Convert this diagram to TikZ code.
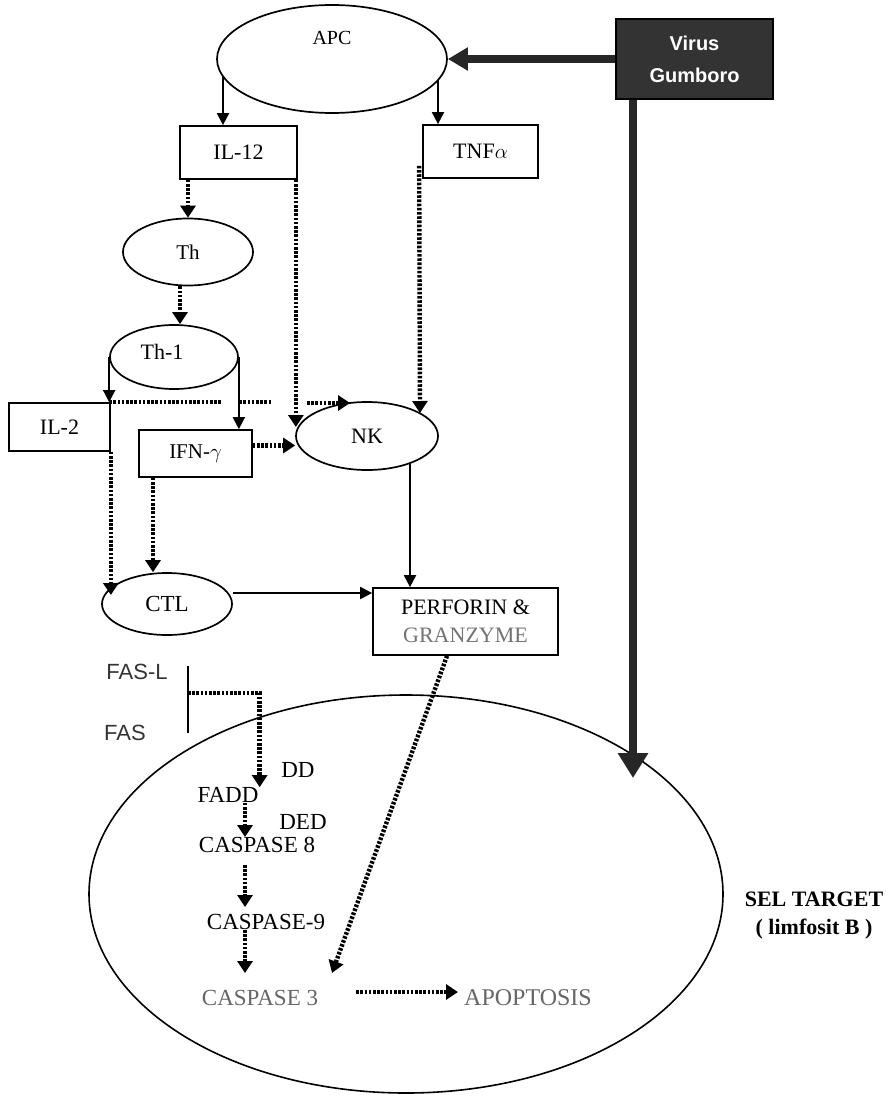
\documentclass[tikz,border=0pt]{standalone}
\usepackage{fontspec}
\setmainfont{Liberation Serif}
\newfontfamily\fasfont{Liberation Sans}
\newfontfamily\virfont{Liberation Sans}
\usetikzlibrary{arrows.meta,shapes.geometric,calc}
\newcommand{\myfs}[1]{\fontsize{#1}{#1}\selectfont}
\begin{document}
\begin{tikzpicture}[x=1pt,y=-1pt,
  box/.style={draw,line width=1.7pt,rectangle,inner sep=0pt},
  oval/.style={draw,line width=1.7pt,ellipse,inner sep=0pt},
  lbl/.style={inner sep=0pt},
  solidarr/.style={line width=1.8pt,-{Triangle[length=12pt,width=12pt]}},
  dotline/.style={line width=4.4pt,dash pattern=on 2.6pt off 1.6pt},
  dotarr/.style={dotline,-{Triangle[length=12pt,width=15pt]}},
  heavy/.style={line width=8pt,draw=black!85}]
\fill[white] (0,0) rectangle (892,1097);
\useasboundingbox (0,0) rectangle (892,1097);

% nodes
\node[oval,minimum width=230pt,minimum height=108pt,
  label={[lbl,yshift=21pt,font=\myfs{20}]center:APC}] (apc) at (332,59) {};
\node[box,fill=black!80,minimum width=157pt,minimum height=80pt,text=white,
  align=center,font=\virfont\bfseries\fontsize{20}{32}\selectfont] (virus) at (694.5,59) {Virus\\Gumboro};
\node[box,minimum width=117pt,minimum height=53pt,font=\myfs{22}] (il12) at (238.5,152.5) {IL-12};
\node[box,minimum width=115pt,minimum height=53pt,font=\myfs{22}] (tnf) at (480.5,151.5) {TNF$\alpha$};
\node[oval,minimum width=130pt,minimum height=67pt,font=\myfs{21}] (th) at (188,252) {Th};
\node[oval,minimum width=128pt,minimum height=64pt,
  label={[lbl,xshift=-12pt,yshift=5pt,font=\myfs{22}]center:Th-1}] (th1) at (174,357) {};
\node[box,minimum width=101pt,minimum height=48pt,font=\myfs{22}] (il2) at (59.5,427) {IL-2};
\node[box,minimum width=113pt,minimum height=47pt,font=\myfs{21}] (ifn) at (195.5,453.5) {IFN-$\gamma$};
\node[oval,minimum width=142pt,minimum height=68pt,font=\myfs{22}] (nk) at (367,436) {NK};
\node[oval,minimum width=130pt,minimum height=62pt,font=\myfs{23}] (ctl) at (167,604) {CTL};
\node[box,minimum width=185pt,minimum height=67pt,align=center,
  font=\fontsize{22}{28}\selectfont] (perf) at (465.5,621.5) {PERFORIN \&\\{\color{black!55}GRANZYME}};
\node[draw,line width=1.6pt,ellipse,minimum width=634pt,minimum height=398pt,inner sep=0pt] (cell) at (406,894) {};

\node[lbl,font=\fasfont\myfs{22},text=black!80] (fasl) at (137,672) {FAS-L};
\node[lbl,font=\fasfont\myfs{22},text=black!80] (fas) at (125,733) {FAS};
\node[lbl,font=\myfs{23}] (dd) at (298,770) {DD};
\node[lbl,font=\myfs{23}] (fadd) at (228,795) {FADD};
\node[lbl,font=\myfs{23}] (ded) at (303,822) {DED};
\node[lbl,font=\myfs{23}] (casp8) at (257,845) {CASPASE 8};
\node[lbl,font=\myfs{23}] (casp9) at (266,922) {CASPASE-9};
\node[lbl,font=\myfs{23},text=black!60] (casp3) at (260,998) {CASPASE 3};
\node[lbl,font=\myfs{24},text=black!60] (apop) at (528,998) {APOPTOSIS};
\node[lbl,align=center,font=\bfseries\fontsize{22}{28}\selectfont] (sel) at (814,916) {SEL TARGET\\( limfosit B )};

\coordinate (fasT) at (188,666);
\coordinate (fasB) at (188,733);

% heavy virus arrows
\draw[heavy,-{Triangle[length=20pt,width=22pt]}] (virus.west) -- (apc.east);
\coordinate (vtip) at (633,778);
\draw[heavy,-{Triangle[length=25pt,width=29pt]}] (virus.south -| vtip) -- (vtip);

% solid arrows
\draw[solidarr] ([xshift=-109pt,yshift=-17pt]apc.center) -- ([xshift=-109pt]apc.center |- il12.north);
\draw[solidarr] ([xshift=106pt,yshift=-21pt]apc.center) -- ([xshift=106pt]apc.center |- tnf.north);
\draw[solidarr] (th1.west) -- (th1.west |- il2.north);
\draw[solidarr] (th1.east) -- (th1.east |- ifn.north);
\draw[solidarr] ([xshift=43pt,yshift=-28pt]nk.center) -- ([xshift=43pt]nk.center |- perf.north);
\draw[solidarr] ([yshift=11pt]ctl.east) -- ([yshift=11pt]ctl.east -| perf.west);

% dotted arrows
\draw[dotarr] (il12.south -| th.north) -- (th.north);
\draw[dotarr] ([xshift=-2pt]il12.south east) -- ([xshift=-2pt,yshift=9pt]il12.south east |- nk.west);
\draw[dotarr] ([xshift=-3pt,yshift=13pt]tnf.south west) -- ([xshift=53pt,yshift=23pt]nk.center);
\draw[dotarr] ([xshift=-8pt]th.south) -- ([xshift=-8pt]th.south |- th1.north);
\draw[dotline] (th1.west |- il2.north) -- ++(112,0) ++(18,0) -- ++(32,0);
\draw[dotarr] ([xshift=-60pt,yshift=33pt]nk.center) -- ([xshift=-17pt,yshift=33pt]nk.center);
\draw[dotarr] ([yshift=8pt]ifn.east) -- ([yshift=8pt]ifn.east -| nk.west);
\draw[dotarr] (il2.south east) -- ([yshift=9pt]il2.south east |- ctl.center);
\draw[dotarr] ([xshift=-42.5pt]ifn.south) -- ([xshift=-42.5pt]ifn.south |- ctl.north);
\draw[dotarr] ([xshift=-18.5pt]perf.south) -- ([xshift=72pt,yshift=25pt]casp3.center);

% FAS pathway
\draw[line width=1.6pt] (fasT) -- (fasB);
\draw[dotarr] ($(fasT)!0.4!(fasB)$) -| ([xshift=1pt]fadd.north east);
\draw[dotarr] ([xshift=17pt]fadd.south) -- ([xshift=17pt]fadd.south |- casp8.north);
\draw[dotarr] ([xshift=-12pt,yshift=-12pt]casp8.south) -- ([xshift=-21pt,yshift=7pt]casp9.north);
\draw[dotarr] ([xshift=-21pt]casp9.south) -- ([xshift=-15pt,yshift=17pt]casp3.north);
\draw[dotarr] ([xshift=38pt,yshift=6pt]casp3.east) -- ([xshift=-6pt,yshift=6pt]apop.west);
\end{tikzpicture}
\end{document}
